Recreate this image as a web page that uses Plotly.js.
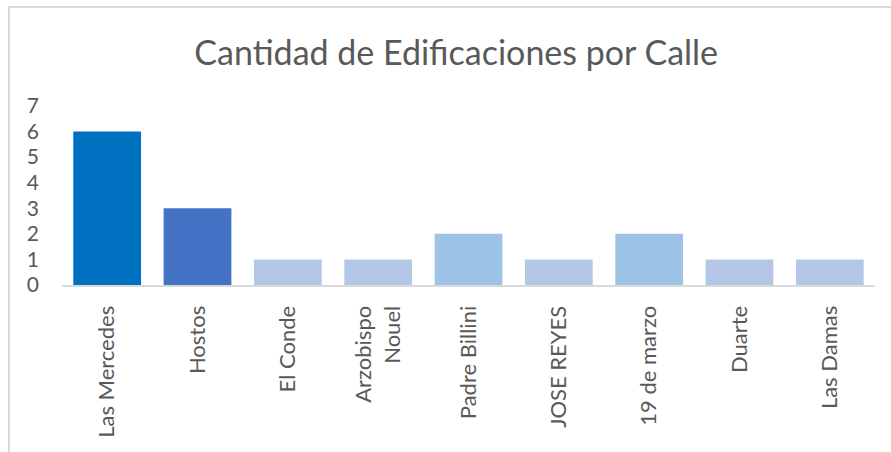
<!DOCTYPE html>
<html>
<head>
<meta charset="utf-8">
<script src="https://cdn.plot.ly/plotly-3.0.1.min.js"></script>
<style>
    body { margin: 0; background: #ffffff; }
    #chart { position: absolute; left: 0; top: 0; width: 891px; height: 452px; }
    #frame {
        position: absolute; left: 8px; top: 6px; width: 900px; height: 460px;
        border-left: 2px solid #d9d9d9; border-top: 2px solid #d9d9d9;
        pointer-events: none;
    }
</style>
</head>
<body>
<div id="chart"></div>
<div id="frame"></div>
<script>
// Calles y cantidad de edificaciones
const streets = ['Las Mercedes', 'Hostos', 'El Conde', 'Arzobispo<br>Nouel', 'Padre Billini',
    'JOSE REYES', '19 de marzo', 'Duarte', 'Las Damas'];
const buildings = [6, 3, 1, 1, 2, 1, 2, 1, 1];
const barColors = ['#0070c0', '#4472c4', '#b4c7e7', '#b4c7e7', '#9dc3e6',
    '#b4c7e7', '#9dc3e6', '#b4c7e7', '#b4c7e7'];
const yTicks = [0, 1, 2, 3, 4, 5, 6, 7];

const textColor = '#595959';
const fontFamily = 'Lato, "Open Sans", sans-serif';

const data = [{
    type: 'bar',
    x: streets,
    y: buildings,
    marker: { color: barColors },
    hoverinfo: 'x+y'
}];

const layout = {
    width: 891,
    height: 452,
    paper_bgcolor: '#ffffff',
    plot_bgcolor: '#ffffff',
    margin: { l: 62, r: 16, t: 106, b: 167 },
    bargap: 0.25,
    showlegend: false,
    font: { family: fontFamily, color: textColor },
    title: {
        text: 'Cantidad de Edificaciones por Calle',
        font: { size: 34, color: textColor, family: fontFamily },
        x: 0.512, xanchor: 'center',
        y: 0.882, yanchor: 'middle'
    },
    xaxis: {
        type: 'category',
        tickangle: -90,
        tickfont: { size: 22, color: textColor },
        showgrid: false,
        showline: true,
        linecolor: '#d9d9d9',
        linewidth: 2,
        ticks: '',
        ticklabelstandoff: 10
    },
    yaxis: {
        range: [0, 7],
        tickvals: yTicks,
        tickfont: { size: 21, color: textColor },
        showgrid: false,
        zeroline: false,
        showline: false,
        ticks: '',
        ticklabelstandoff: 22
    }
};

Plotly.newPlot('chart', data, layout, { displayModeBar: false, staticPlot: true });
</script>
</body>
</html>
